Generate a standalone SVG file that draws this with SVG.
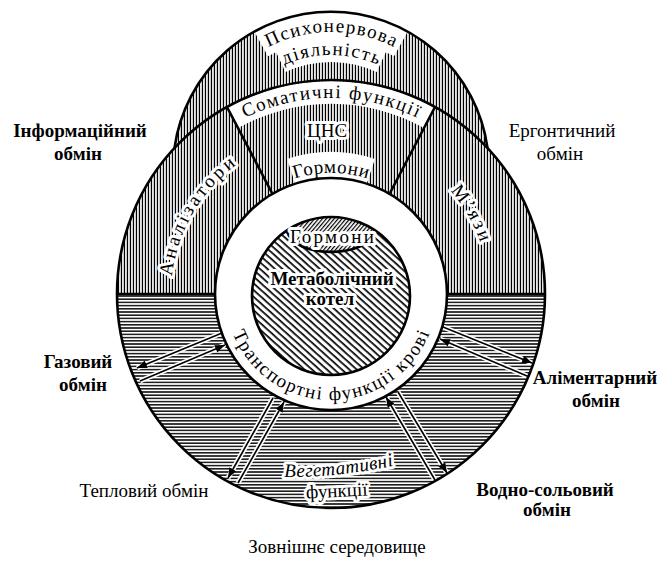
<svg xmlns="http://www.w3.org/2000/svg" width="661" height="561" viewBox="0 0 661 561">
<style>
text{font-family:"Liberation Serif","DejaVu Serif",serif;fill:#000;font-size:19px}
.b{font-weight:bold}
text.h{fill:#fff;stroke:#fff;stroke-width:6;stroke-linejoin:round}
.ol{fill:none;stroke:#000;stroke-width:2.6}
.band{fill:#fff}
.ln{fill:none;stroke:#000;stroke-width:1.6}
.lw{fill:none;stroke:#fff;stroke-width:5}
</style>
<defs>
<pattern id="vh" width="3" height="6" patternUnits="userSpaceOnUse"><rect x="0.8" y="0" width="1.3" height="6" fill="#000"/></pattern>
<pattern id="hh" width="6" height="3.2" patternUnits="userSpaceOnUse"><rect x="0" y="0.9" width="6" height="1.4" fill="#000"/></pattern>
<pattern id="dh" width="10" height="5" patternUnits="userSpaceOnUse" patternTransform="rotate(42)"><rect x="0" y="0" width="10" height="1.7" fill="#000"/></pattern>
<pattern id="lh" width="10" height="3" patternUnits="userSpaceOnUse" patternTransform="rotate(-50)"><rect x="0" y="0" width="10" height="1.2" fill="#000"/></pattern>
<marker id="ah" viewBox="0 0 10 8" refX="10" refY="4" markerWidth="10" markerHeight="8" markerUnits="userSpaceOnUse" orient="auto"><path d="M0 0 L10 4 L0 8 Z" fill="#000"/></marker>
<path id="pPsy1" d="M233.42 72.42 A138 138 0 0 1 428.58 72.42"/>
<path id="pPsy2" d="M249.68 88.68 A115 115 0 0 1 412.32 88.68"/>
<path id="pSoma" d="M192.41 155.41 A196 196 0 0 1 469.59 155.41"/>
<path id="pHorm" d="M245.44 208.44 A121 121 0 0 1 416.56 208.44"/>
<path id="pAnal" d="M173.43 321.78 A160 160 0 0 1 276.28 143.65"/>
<path id="pMyaz" d="M432.56 172.97 A158 158 0 0 1 486.6 266.57"/>
<path id="pTrans" d="M226.61 312.41 A106 106 0 0 0 435.39 312.41"/>
<path id="pVeg" d="M281 477 Q336 478 397 465"/>
</defs>

<g id="regions">
<path id="psy-region" d="M174.5 148 A158 158 0 0 1 487.5 148 A214 214 0 0 0 174.5 148 Z" fill="url(#vh)"/>
<path id="upper-ring" d="M117 294 A214 214 0 0 1 545 294 L447 294 A116 116 0 0 0 215 294 Z" fill="url(#vh)"/>
<path id="lower-ring" d="M117 294 A214 214 0 0 0 545 294 L447 294 A116 116 0 0 1 215 294 Z" fill="url(#hh)"/>
<circle cx="331" cy="294" r="116" fill="#fff"/>
<circle cx="331" cy="296" r="79" fill="url(#dh)"/>
<path d="M287 230.4 C292 259 370 259 375 230.4 A79 79 0 0 0 287 230.4 Z" fill="#fff"/>
<path id="lens" d="M287 230.4 C292 259 370 259 375 230.4 A79 79 0 0 0 287 230.4 Z" fill="url(#lh)"/>
</g>

<g id="bands">
<path class="band" d="M254.4 31.81 A158 158 0 0 1 407.6 31.81 L394.02 56.3 A130 130 0 0 0 267.98 56.3 Z"/>
<path class="band" d="M275.22 50.37 A132 132 0 0 1 386.78 50.37 L376.64 72.12 A108 108 0 0 0 285.36 72.12 Z"/>
<path class="band" d="M227.4 107.7 A214 214 0 0 1 434.6 107.7 L423.6 127.8 A191 191 0 0 0 238.4 127.8 Z"/>
<path class="band" d="M287.12 158.94 A142 142 0 0 1 374.88 158.94 L366.23 185.58 A114 114 0 0 0 295.77 185.58 Z"/>
</g>

<g id="connectors">
<path class="lw" d="M222 333 L137 368"/><path class="ln" d="M222 333 L137 368" marker-end="url(#ah)"/>
<path class="lw" d="M140 381 L225 345"/><path class="ln" d="M140 381 L225 345" marker-end="url(#ah)"/>
<path class="lw" d="M443 327 L532 363"/><path class="ln" d="M443 327 L532 363" marker-end="url(#ah)"/>
<path class="lw" d="M527 376 L440 339"/><path class="ln" d="M527 376 L440 339" marker-end="url(#ah)"/>
<path class="lw" d="M273 398 L228 478"/><path class="ln" d="M273 398 L228 478" marker-end="url(#ah)"/>
<path class="lw" d="M238 483 L284 402"/><path class="ln" d="M238 483 L284 402" marker-end="url(#ah)"/>
<path class="lw" d="M435 480 L386 397"/><path class="ln" d="M435 480 L386 397" marker-end="url(#ah)"/>
<path class="lw" d="M398 392 L447 473"/><path class="ln" d="M398 392 L447 473" marker-end="url(#ah)"/>
</g>

<g id="outlines">
<path class="ol" d="M174.5 148 A158 158 0 0 1 487.5 148"/>
<circle class="ol" cx="331" cy="294" r="214" stroke-width="3"/>
<circle class="ol" cx="331" cy="294" r="116"/>
<circle class="ol" cx="331" cy="296" r="79" stroke-width="2.2"/>
<path class="ol" stroke-width="2" d="M287 230.4 C292 259 370 259 375 230.4"/>
<path class="ol" d="M117 294 L215 294 M447 294 L545 294"/>
<path class="ol" d="M227 107 L272 193 M435 107 L390 193"/>
</g>

<g id="node-psy">
<text font-size="20"><textPath href="#pPsy1" startOffset="50%" text-anchor="middle" textLength="130">Психонервова</textPath></text>
<text font-size="20"><textPath href="#pPsy2" startOffset="50%" text-anchor="middle" textLength="96">діяльність</textPath></text>
</g>
<g id="node-soma"><text font-size="20"><textPath href="#pSoma" startOffset="50%" text-anchor="middle" textLength="178">Соматичні функції</textPath></text></g>
<g id="node-cns">
<text class="h" x="327" y="137" font-size="20" text-anchor="middle">ЦНС</text>
<text x="327" y="137" font-size="20" text-anchor="middle">ЦНС</text>
<text font-size="19"><textPath href="#pHorm" startOffset="50%" text-anchor="middle" textLength="74">Гормони</textPath></text>
</g>
<g id="node-anal">
<text class="h" stroke-width="5" font-size="20"><textPath href="#pAnal" startOffset="50%" text-anchor="middle" textLength="132">Аналізатори</textPath></text>
<text font-size="20"><textPath href="#pAnal" startOffset="50%" text-anchor="middle" textLength="132">Аналізатори</textPath></text>
</g>
<g id="node-myaz">
<text class="h" font-size="20"><textPath href="#pMyaz" startOffset="50%" text-anchor="middle" textLength="60">М’язи</textPath></text>
<text font-size="20"><textPath href="#pMyaz" startOffset="50%" text-anchor="middle" textLength="60">М’язи</textPath></text>
</g>
<g id="node-core">
<text class="h" x="332" y="243" font-size="20" text-anchor="middle" textLength="84">Гормони</text>
<text x="332" y="243" font-size="20" text-anchor="middle" textLength="84">Гормони</text>
<text class="h b" x="332" y="285" font-size="19" text-anchor="middle">Метаболічний</text>
<text class="b" x="332" y="285" font-size="19" text-anchor="middle">Метаболічний</text>
<text class="h b" x="330" y="305" font-size="19" text-anchor="middle">котел</text>
<text class="b" x="330" y="305" font-size="19" text-anchor="middle">котел</text>
</g>
<g id="node-trans"><text font-size="21"><textPath href="#pTrans" startOffset="50%" text-anchor="middle" textLength="252">Транспортні функції крові</textPath></text></g>
<g id="node-veg">
<text class="h" stroke-width="8" font-size="20" font-style="italic"><textPath href="#pVeg" startOffset="50%" text-anchor="middle" textLength="110">Вегетативні</textPath></text>
<text font-size="20" font-style="italic"><textPath href="#pVeg" startOffset="50%" text-anchor="middle" textLength="110">Вегетативні</textPath></text>
<text class="h" stroke-width="8" x="337" y="497" font-size="20" text-anchor="middle" transform="rotate(-3 337 497)">функції</text>
<text x="337" y="497" font-size="20" text-anchor="middle" transform="rotate(-3 337 497)">функції</text>
</g>

<g id="node-info"><text class="b" x="80" y="137" text-anchor="middle">Інформаційний</text><text class="b" x="78" y="160" text-anchor="middle">обмін</text></g>
<g id="node-ergo"><text x="562" y="137" text-anchor="middle">Ергонтичний</text><text x="560" y="160" text-anchor="middle">обмін</text></g>
<g id="node-gas"><text class="b" x="78" y="368" text-anchor="middle">Газовий</text><text class="b" x="83" y="391" text-anchor="middle">обмін</text></g>
<g id="node-heat"><text x="144" y="497" text-anchor="middle">Тепловий обмін</text></g>
<g id="node-alim"><text class="b" x="595" y="384" text-anchor="middle">Аліментарний</text><text class="b" x="596" y="407" text-anchor="middle">обмін</text></g>
<g id="node-water"><text class="b" x="545" y="496" text-anchor="middle">Водно-сольовий</text><text class="b" x="547" y="516" text-anchor="middle">обмін</text></g>
<g id="node-env"><text x="337" y="553" font-size="20" text-anchor="middle">Зовнішнє середовище</text></g>
</svg>
